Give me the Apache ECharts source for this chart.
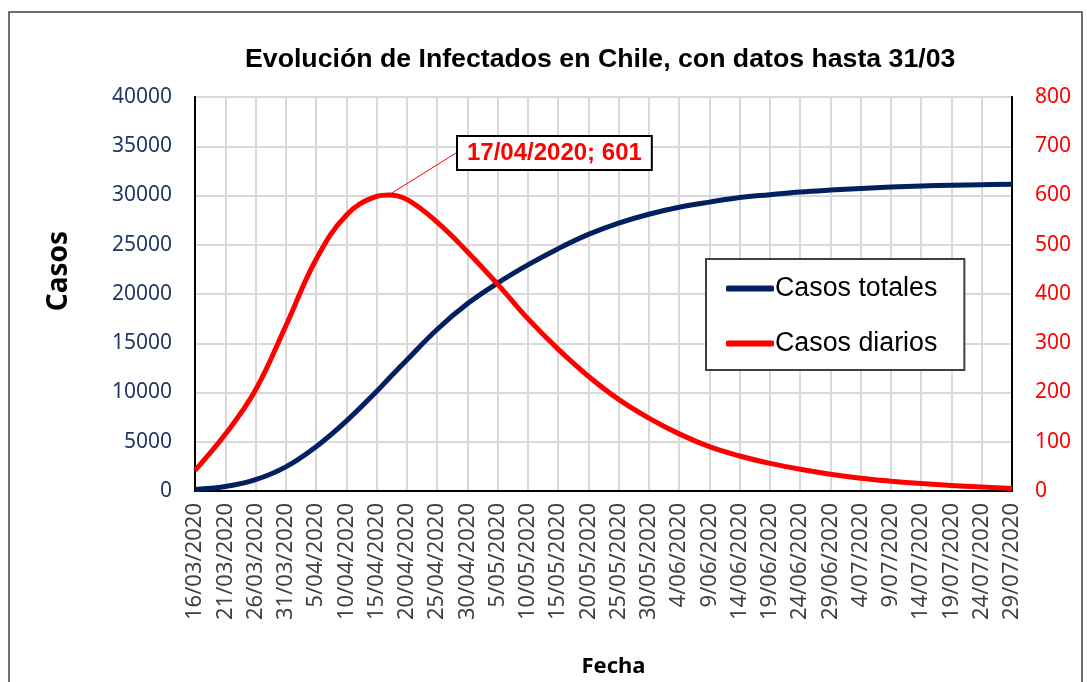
<!DOCTYPE html>
<html>
<head>
<meta charset="utf-8">
<title>Evolución de Infectados en Chile</title>
<script src="https://cdn.jsdelivr.net/npm/echarts@6/dist/echarts.min.js"></script>
<style>
  html, body { margin: 0; padding: 0; background: #fff; }
  #chart { width: 1087px; height: 682px; }
</style>
</head>
<body>
<div id="chart"></div>
<script>
// etiquetas del eje X (cada 5 días)
const tickLabels = ['16/03/2020', '21/03/2020', '26/03/2020', '31/03/2020', '5/04/2020', '10/04/2020',
  '15/04/2020', '20/04/2020', '25/04/2020', '30/04/2020', '5/05/2020', '10/05/2020', '15/05/2020',
  '20/05/2020', '25/05/2020', '30/05/2020', '4/06/2020', '9/06/2020', '14/06/2020', '19/06/2020',
  '24/06/2020', '29/06/2020', '4/07/2020', '9/07/2020', '14/07/2020', '19/07/2020', '24/07/2020', '29/07/2020']

// día desde el 16/03/2020 de cada punto leído
const sampleDays = [0, 5, 10, 15, 20, 25, 30, 32, 35, 40, 45, 50, 55, 60, 65, 70, 75, 80, 85, 90,
  95, 100, 105, 110, 115, 120, 125, 130, 135]
const casosTotales = [150, 450, 1150, 2450, 4500, 7100, 10100, 11400, 13300, 16400, 19000, 21100, 22950,
  24600, 26050, 27200, 28100, 28800, 29330, 29800, 30080, 30350, 30550, 30720, 30860, 30960, 31040, 31100, 31130]
const casosDiarios = [42, 115, 205, 335, 470, 560, 598, 601, 592, 546, 486, 420, 350, 288, 233, 186, 148,
  116, 90, 71, 56, 44, 34, 26, 20, 15, 11, 8, 5]
const peakIndex = 7 // 17/04/2020
const peakText = '17/04/2020; 601'

const font = 'Noto Sans'
const chart = echarts.init(document.getElementById('chart'))

const option = {
  backgroundColor: '#fff',
  animation: false,
  title: {
    text: 'Evolución de Infectados en Chile, con datos hasta 31/03',
    left: 240,
    top: 41,
    textStyle: { fontFamily: 'Liberation Sans', fontWeight: 'bold', fontSize: 26.7, color: '#000' }
  },
  graphic: [{
    type: 'rect',
    shape: { x: 9, y: 12, width: 1073, height: 690 },
    style: { fill: 'none', stroke: '#404040', lineWidth: 1.5 },
    silent: true
  }],
  legend: {
    orient: 'vertical',
    left: 706,
    top: 259,
    padding: [16, 27, 13, 20],
    itemGap: 28,
    itemWidth: 48,
    itemHeight: 6,
    icon: 'roundRect',
    borderColor: '#404040',
    borderWidth: 2,
    backgroundColor: '#fff',
    textStyle: { fontFamily: 'Liberation Sans', fontSize: 26.8, color: '#000', padding: [0, 0, 0, -4] },
    data: ['Casos totales', 'Casos diarios']
  },
  grid: {
    left: 195, right: 75, top: 97, bottom: 191,
    show: true,
    borderColor: '#000',
    borderWidth: 2,
    outerBoundsMode: 'none'
  },
  xAxis: {
    type: 'value',
    min: 0,
    max: 135,
    interval: 5,
    name: 'Fecha',
    nameLocation: 'middle',
    nameGap: 165,
    nameTextStyle: { fontFamily: font, fontWeight: 'bold', fontSize: 22, color: '#000', padding: [0, 0, 0, 20] },
    axisLine: { show: true, lineStyle: { color: '#000', width: 2 } },
    axisTick: { show: false },
    splitLine: { show: true, lineStyle: { color: '#d9d9d9', width: 2 } },
    axisLabel: {
      rotate: 90,
      margin: 12,
      fontFamily: font,
      fontSize: 22,
      color: '#404040',
      formatter: v => tickLabels[v / 5]
    }
  },
  yAxis: [{
    type: 'value',
    min: 0,
    max: 40000,
    interval: 5000,
    name: 'Casos',
    nameLocation: 'middle',
    nameGap: 122,
    nameRotate: 90,
    nameTextStyle: { fontFamily: font, fontWeight: 'bold', fontSize: 28, color: '#000', padding: [0, 0, 0, 46] },
    axisLine: { show: true, lineStyle: { color: '#000', width: 2 } },
    axisTick: { show: false },
    splitLine: { show: true, lineStyle: { color: '#d9d9d9', width: 2 } },
    axisLabel: { margin: 23, fontFamily: font, fontSize: 21, color: '#203864', formatter: v => String(v) }
  }, {
    type: 'value',
    min: 0,
    max: 800,
    interval: 100,
    position: 'right',
    axisLine: { show: true, lineStyle: { color: '#000', width: 2 } },
    axisTick: { show: false },
    splitLine: { show: false },
    axisLabel: { margin: 23, fontFamily: font, fontSize: 21, color: '#ff0000', formatter: v => String(v) }
  }],
  series: [{
    name: 'Casos totales',
    type: 'line',
    yAxisIndex: 0,
    smooth: 0.4,
    showSymbol: false,
    symbol: 'none',
    lineStyle: { color: '#002060', width: 5 },
    itemStyle: { color: '#002060' },
    data: sampleDays.map((d, i) => [d, casosTotales[i]])
  }, {
    name: 'Casos diarios',
    type: 'line',
    yAxisIndex: 1,
    smooth: 0.4,
    showSymbol: true,
    symbol: 'circle',
    symbolSize: 0,
    lineStyle: { color: '#ff0000', width: 5 },
    itemStyle: { color: '#ff0000' },
    z: 3,
    labelLine: { show: true, length2: 12, lineStyle: { color: '#ff0000', width: 1 } },
    labelLayout: p => p.dataIndex === peakIndex ? { x: 458, y: 153, align: 'left', verticalAlign: 'middle' } : {},
    data: sampleDays.map((d, i) => {
      if (i !== peakIndex) return [d, casosDiarios[i]]
      return {
        value: [d, casosDiarios[i]],
        label: {
          show: true,
          formatter: peakText,
          fontFamily: 'Liberation Sans',
          fontWeight: 'bold',
          fontSize: 24,
          color: '#ff0000',
          backgroundColor: '#fff',
          borderColor: '#000',
          borderWidth: 2,
          padding: [5, 9, 3, 9]
        }
      }
    })
  }]
}

chart.setOption(option)
</script>
</body>
</html>
